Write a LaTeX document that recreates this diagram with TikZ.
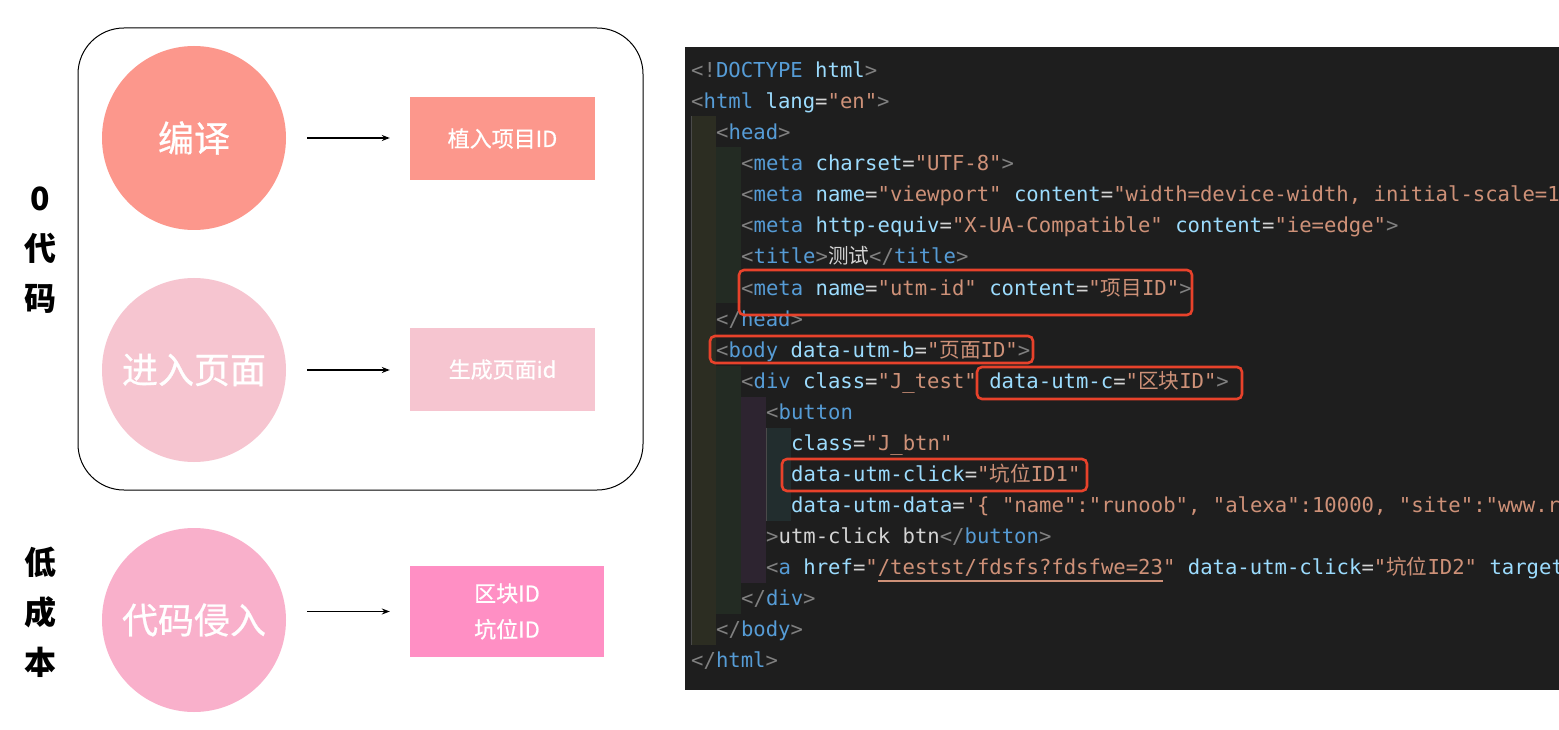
\documentclass[tikz,border=0pt]{standalone}
\usepackage{fontspec}
\usetikzlibrary{arrows.meta}
\newfontfamily\cjk{Noto Sans CJK SC}
\newfontfamily\cjkmed{Noto Sans CJK SC}[FakeBold=0.7]
\newfontfamily\mono{DejaVu Sans Mono}
\definecolor{cbg}{HTML}{1E1E1E}
\definecolor{cpun}{HTML}{808080}
\definecolor{ctag}{HTML}{569CD6}
\definecolor{cattr}{HTML}{9CDCFE}
\definecolor{cstr}{HTML}{CE9178}
\definecolor{ctxt}{HTML}{D4D4D4}
\definecolor{cred}{HTML}{E8422B}
\definecolor{gOlive}{HTML}{2C2D22}
\definecolor{gGreen}{HTML}{232B23}
\definecolor{gPurple}{HTML}{2D2430}
\definecolor{gTeal}{HTML}{222D2E}
\definecolor{salmon}{HTML}{FC978C}
\definecolor{lpink}{HTML}{F6C5D0}
\definecolor{mpink}{HTML}{F9B0CB}
\definecolor{hpink}{HTML}{FF8FC4}
\newcommand\cP[1]{\textcolor{cpun}{#1}}
\newcommand\cT[1]{\textcolor{ctag}{#1}}
\newcommand\cA[1]{\textcolor{cattr}{#1}}
\newcommand\cS[1]{\textcolor{cstr}{#1}}
\newcommand\cW[1]{\textcolor{ctxt}{#1}}
\newcommand\cQ{\textquotesingle}
\begin{document}
\begin{tikzpicture}[x=1pt,y=-1pt,
  bubble/.style={circle,minimum size=184pt,inner sep=0pt,text=white,font={\cjkmed\fontsize{36}{40}\selectfont}},
  idbox/.style={rectangle,inner sep=0pt,text=white,align=center,font={\cjkmed\fontsize{22}{36}\selectfont}},
  sidelabel/.style={align=center,inner sep=0pt,font={\cjk\bfseries\fontsize{32}{50}\selectfont}},
  arr/.style={line width=1.1pt,-{Stealth[length=8pt,width=6pt]},shorten <=21pt,shorten >=20pt},
  codeline/.style={anchor=base west,inner sep=0pt,font={\mono\fontsize{20.6}{24}\selectfont}},
  hl/.style={draw=cred,line width=2.6pt,rounded corners=5pt}]
\useasboundingbox (0,0) rectangle (1559,730);
\fill[white] (0,0) rectangle (1559,730);
% ---------- left part ----------
\draw[line width=1pt,rounded corners=46pt] (78,28) rectangle (643,490);
\node[sidelabel] (zero) at (40,250) {0\\代\\码};
\node[sidelabel] (low) at (40,612) {低\\成\\本};
\node[bubble,fill=salmon] (c1) at (194,138) {编译};
\node[bubble,fill=lpink] (c2) at (194,370) {进入页面};
\node[bubble,fill=mpink] (c3) at (194,620) {代码侵入};
\node[idbox,fill=salmon,minimum width=185pt,minimum height=83pt] (b1) at (502.5,138.5) {植入项目ID};
\node[idbox,fill=lpink,minimum width=185pt,minimum height=83pt] (b2) at (502.5,369.5) {生成页面id};
\node[idbox,fill=hpink,minimum width=194pt,minimum height=91pt] (b3) at (507,611.5) {区块ID\\坑位ID};
\draw[arr] (c1) -- (c1 -| b1.west);
\draw[arr] (c2) -- (c2 -| b2.west);
\draw[arr] (c3.east |- b3) -- (b3.west);
% ---------- code panel ----------
\begin{scope}
\clip (685,47) rectangle (1559,690);
\fill[cbg] (685,47) rectangle (1559,690);
% indent guides
\fill[gOlive] (691,116.5) rectangle (716,644.5);
\draw[cpun!45!cbg,line width=1pt] (691.5,116.5) -- (691.5,644.5);
\fill[gGreen] (716,147.5) rectangle (741,302.5);
\fill[gGreen] (716,365.5) rectangle (741,613.5);
\fill[gPurple] (741,396.5) rectangle (766,582.5);
\fill[gTeal] (766,427.5) rectangle (791,520.5);
\draw[cpun!45!cbg,line width=1pt] (766.5,427.5) -- (766.5,520.5);
% code lines (baseline = centre + 7)
\node[codeline] (l1)  at (691,77.5)  {\cP{<!}\cT{DOCTYPE} \cA{html}\cP{>}};
\node[codeline] (l2)  at (691,108.5) {\cP{<}\cT{html} \cA{lang}\cW{=}\cS{"en"}\cP{>}};
\node[codeline] (l3)  at (716,139.5) {\cP{<}\cT{head}\cP{>}};
\node[codeline] (l4)  at (741,170.5) {\cP{<}\cT{meta} \cA{charset}\cW{=}\cS{"UTF-8"}\cP{>}};
\node[codeline] (l5)  at (741,201.5) {\cP{<}\cT{meta} \cA{name}\cW{=}\cS{"viewport"} \cA{content}\cW{=}\cS{"width=device-width, initial-scale=1.0"}\cP{>}};
\node[codeline] (l6)  at (741,232.5) {\cP{<}\cT{meta} \cA{http-equiv}\cW{=}\cS{"X-UA-Compatible"} \cA{content}\cW{=}\cS{"ie=edge"}\cP{>}};
\node[codeline] (l7)  at (741,263.5) {\cP{<}\cT{title}\cP{>}\cW{{\cjk 测试}}\cP{</}\cT{title}\cP{>}};
\node[codeline] (l8)  at (741,295)   {\cP{<}\cT{meta} \cA{name}\cW{=}\cS{"utm-id"} \cA{content}\cW{=}\cS{"{\cjk 项目}ID"}\cP{>}};
\node[codeline] (l9)  at (716,326)   {\cP{</}\cT{head}\cP{>}};
\node[codeline] (l10) at (716,357)   {\cP{<}\cT{body} \cA{data-utm-b}\cW{=}\cS{"{\cjk 页面}ID"}\cP{>}};
\node[codeline] (l11) at (741,388)   {\cP{<}\cT{div} \cA{class}\cW{=}\cS{"J\_test"} \cA{data-utm-c}\cW{=}\cS{"{\cjk 区块}ID"}\cP{>}};
\node[codeline] (l12) at (766,419)   {\cP{<}\cT{button}};
\node[codeline] (l13) at (791,450)   {\cA{class}\cW{=}\cS{"J\_btn"}};
\node[codeline] (l14) at (791,481)   {\cA{data-utm-click}\cW{=}\cS{"{\cjk 坑位}ID1"}};
\node[codeline] (l15) at (791,512)   {\cA{data-utm-data}\cW{=}\cS{\cQ\{ "name":"runoob", "alexa":10000, "site":"www.runoob.com"\}\cQ}};
\node[codeline] (l16) at (766,543)   {\cP{>}\cW{utm-click btn}\cP{</}\cT{button}\cP{>}};
\node[codeline] (l17) at (766,574)   {\cP{<}\cT{a} \cA{href}\cW{=}\cS{"/testst/fdsfs?fdsfwe=23"} \cA{data-utm-click}\cW{=}\cS{"{\cjk 坑位}ID2"} \cA{target}\cW{=}\cS{"\_blank"}\cP{>}};
\node[codeline] (l18) at (741,605)   {\cP{</}\cT{div}\cP{>}};
\node[codeline] (l19) at (716,636)   {\cP{</}\cT{body}\cP{>}};
\node[codeline] (l20) at (691,667)   {\cP{</}\cT{html}\cP{>}};
% underline of the link
\draw[cstr,line width=1.2pt] (878,581) -- (1163,581);
% red highlight boxes
\draw[hl] (739,270) rectangle (1192,315);
\draw[hl] (710,336) rectangle (1033,363);
\draw[hl] (977,367) rectangle (1242,399);
\draw[hl] (782,459) rectangle (1087,491);
\end{scope}
\end{tikzpicture}
\end{document}
